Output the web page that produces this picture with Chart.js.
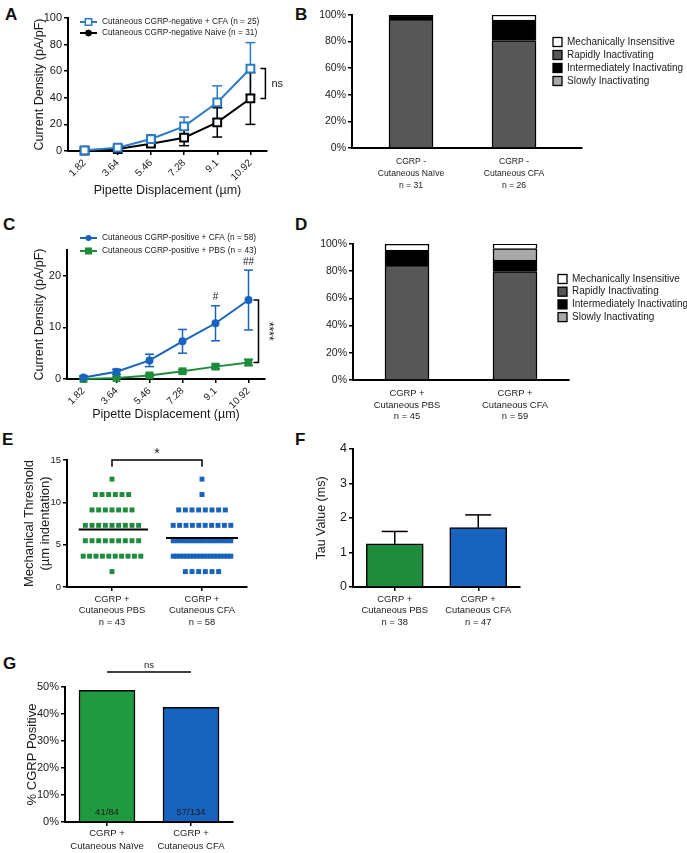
<!DOCTYPE html>
<html>
<head>
<meta charset="utf-8">
<script src="https://cdn.jsdelivr.net/npm/chart.js@4.4.1/dist/chart.umd.min.js"></script>
<style>
  body { margin: 0; background: #fff; width: 687px; height: 853px; position: relative; overflow: hidden; }
  canvas { position: absolute; }
  .panel { position: absolute; font: bold 17px/17px 'Liberation Sans', Arial, sans-serif; color: #111; }
</style>
</head>
<body>
<div class="panel" style="left:5px;top:6px">A</div>
<div class="panel" style="left:295px;top:6px">B</div>
<div class="panel" style="left:3px;top:216px">C</div>
<div class="panel" style="left:295px;top:216px">D</div>
<div class="panel" style="left:2px;top:431px">E</div>
<div class="panel" style="left:295px;top:431px">F</div>
<div class="panel" style="left:3px;top:655px">G</div>

<canvas id="chartA" width="300" height="202" style="left:0;top:0"></canvas>
<canvas id="chartB" width="387" height="200" style="left:300px;top:0"></canvas>
<canvas id="chartC" width="300" height="218" style="left:0;top:205px"></canvas>
<canvas id="chartD" width="387" height="220" style="left:300px;top:205px"></canvas>
<canvas id="chartE" width="300" height="205" style="left:0;top:425px"></canvas>
<canvas id="chartF" width="300" height="205" style="left:300px;top:425px"></canvas>
<canvas id="chartG" width="300" height="213" style="left:0;top:640px"></canvas>

<script>
// ---- data ----
const displacement = ['1.82', '3.64', '5.46', '7.28', '9.1', '10.92'];

// A: CGRP-negative neurons
const negCfaMean = [0.5, 2.5, 9, 18.5, 36.5, 62];
const negCfaSem = [0.6, 1, 3.2, 7, 12.5, 19.5];
const negNaiveMean = [0.2, 1.5, 5.5, 10, 21.5, 39.5];
const negNaiveSem = [0.4, 0.8, 2, 6, 11, 19.5];

// C: CGRP-positive neurons
const posCfaMean = [0.3, 1.4, 3.6, 7.3, 10.8, 15.3];
const posCfaSem = [0.3, 0.5, 1.2, 2.3, 3.4, 5.8];
const posPbsMean = [0, 0.2, 0.7, 1.5, 2.4, 3.2];
const posPbsSem = [0.1, 0.15, 0.25, 0.3, 0.4, 0.6];

// B / D: current types (% of cells)
const bGroups = [['CGRP -', 'Cutaneous Naïve', 'n = 31'], ['CGRP -', 'Cutaneous CFA', 'n = 26']];
const bRapid = [96.8, 80.8];
const bInter = [3.2, 15.4];
const bSlow = [0, 0];
const bMech = [0, 3.8];

const dGroups = [['CGRP +', 'Cutaneous PBS', 'n = 45'], ['CGRP +', 'Cutaneous CFA', 'n = 59']];
const dRapid = [84.4, 79.7];
const dInter = [11.1, 8.5];
const dSlow = [0, 8.5];
const dMech = [4.4, 3.4];

const typeNames = ['Mechanically Insensitive', 'Rapidly Inactivating', 'Intermediately Inactivating', 'Slowly Inactivating'];

// E: mechanical threshold, cells per indentation level
const eGroups = [['CGRP +', 'Cutaneous PBS', 'n = 43'], ['CGRP +', 'Cutaneous CFA', 'n = 58']];
const thresholdLevels = [12.74, 10.92, 9.1, 7.28, 5.46, 3.64, 1.82];
const pbsCounts = [1, 6, 7, 9, 9, 10, 1];
const cfaCounts = [1, 1, 8, 10, 14, 18, 6];
const thresholdMeans = [6.8, 5.8];

// F: tau
const fGroups = [['CGRP +', 'Cutaneous PBS', 'n = 38'], ['CGRP +', 'Cutaneous CFA', 'n = 47']];
const tauMean = [1.25, 1.72];
const tauSem = [0.36, 0.37];

// G: % CGRP positive
const gGroups = [['CGRP +', 'Cutaneous Naïve'], ['CGRP +', 'Cutaneous CFA']];
const pctPositive = [48.8, 42.5];
const gCounts = ['41/84', '57/134'];

// ---- styles ----
const FONT = "'Liberation Sans', Arial, sans-serif";
const INK = '#1a1a1a';
const blueA = '#2b7bc6';
const blue = '#1763bd';
const green = '#1e8c3c';
const greenG = '#1f9a40';
const rapidGrey = '#575757';
const slowGrey = '#a8a8a8';

Chart.defaults.font.family = FONT;
Chart.defaults.color = INK;
Chart.defaults.animation = false;
Chart.defaults.responsive = false;
Chart.defaults.devicePixelRatio = 1;
Chart.defaults.plugins.legend.display = false;
Chart.defaults.plugins.tooltip.enabled = false;

// ---- helpers ----
function valueAxis(o) {
  const axis = {
    min: o.min, max: o.max,
    ticks: { stepSize: o.step, font: { size: o.size || 11 }, padding: 2, color: INK, callback: o.fmt || (v => v) },
    grid: { drawOnChartArea: false, color: '#000', lineWidth: 1.5, tickLength: 4 },
    border: { color: '#000', width: 2 },
    title: o.title
      ? { display: true, text: o.title, color: INK, font: { size: o.titleSize || 12.5 }, padding: { top: 4, bottom: 0 } }
      : { display: false },
    afterFit: (s) => { s.width = o.width; }
  };
  if (o.keep) axis.afterBuildTicks = (s) => { s.ticks = s.ticks.filter(t => o.keep.includes(t.value)); };
  if (o.stacked) axis.stacked = true;
  return axis;
}

function groupAxis(o) {
  const axis = {
    type: o.type || 'category',
    offset: o.offset !== false,
    ticks: {
      autoSkip: false, maxRotation: o.rot || 0, minRotation: o.rot || 0, padding: o.pad, color: INK,
      font: { size: o.size || 9.4, lineHeight: o.lh || 1.22 },
      callback: o.callback || function (v) { return this.getLabelForValue(v); }
    },
    grid: { display: o.ticks !== false, drawOnChartArea: false, color: '#000', lineWidth: 1.5, tickLength: 4, offset: false },
    border: { color: '#000', width: 2 },
    title: o.title
      ? { display: true, text: o.title, color: INK, font: { size: 12.5 }, padding: { top: 0, bottom: o.titlePad || 4 } }
      : { display: false },
    afterFit: (s) => { s.height = o.height; }
  };
  if (o.type === 'linear') {
    axis.min = o.min;
    axis.max = o.max;
    axis.offset = false;
    axis.afterBuildTicks = (s) => { s.ticks = o.at.map(v => ({ value: v })); };
  }
  if (o.stacked) axis.stacked = true;
  return axis;
}

function text(ctx, str, x, y, size, opts = {}) {
  ctx.save();
  ctx.font = `${opts.bold ? 'bold ' : ''}${size}px ${FONT}`;
  ctx.fillStyle = opts.color || INK;
  ctx.textAlign = opts.align || 'left';
  ctx.textBaseline = 'middle';
  ctx.translate(x, y);
  if (opts.rot) ctx.rotate(opts.rot);
  ctx.fillText(str, 0, 0);
  ctx.restore();
}

function path(ctx, pts, width = 1.5, color = '#000') {
  ctx.save();
  ctx.strokeStyle = color;
  ctx.lineWidth = width;
  ctx.beginPath();
  pts.forEach(([x, y], i) => (i ? ctx.lineTo(x, y) : ctx.moveTo(x, y)));
  ctx.stroke();
  ctx.restore();
}

function lineKey(ctx, x1, x2, y, key, label, size) {
  path(ctx, [[x1, y], [x2, y]], 2, key.color);
  ctx.save();
  ctx.fillStyle = key.fill;
  ctx.strokeStyle = key.color;
  ctx.lineWidth = key.border;
  Chart.helpers.drawPoint(ctx, { pointStyle: key.style, radius: key.radius, rotation: 0, borderWidth: key.border }, (x1 + x2) / 2, y);
  ctx.restore();
  text(ctx, label, x2 + 5, y, size);
}

function boxKeys(ctx, x, y0, dy, fills, labels, size) {
  labels.forEach((label, i) => {
    const y = y0 + i * dy;
    ctx.save();
    ctx.fillStyle = fills[i];
    ctx.fillRect(x, y - 4.5, 9, 9);
    ctx.strokeStyle = '#000';
    ctx.lineWidth = 1.3;
    ctx.strokeRect(x, y - 4.5, 9, 9);
    ctx.restore();
    text(ctx, label, x + 14, y, size);
  });
}

// error bars from dataset.errors (symmetric, or upward only)
const errorBars = {
  id: 'errorBars',
  beforeDatasetsDraw(chart) {
    const ctx = chart.ctx;
    chart.data.datasets.forEach((ds, i) => {
      if (!ds.errors) return;
      const meta = chart.getDatasetMeta(i);
      const y = chart.scales[meta.yAxisID];
      const hw = (ds.capWidth || 10) / 2;
      meta.data.forEach((el, j) => {
        const v = ds.data[j];
        const top = y.getPixelForValue(v + ds.errors[j]);
        const bot = ds.errorUp ? y.getPixelForValue(v) : y.getPixelForValue(v - ds.errors[j]);
        const c = ds.errorColor || ds.borderColor;
        path(ctx, [[el.x, top], [el.x, bot]], 1.5, c);
        path(ctx, [[el.x - hw, top], [el.x + hw, top]], 1.5, c);
        if (!ds.errorUp) path(ctx, [[el.x - hw, bot], [el.x + hw, bot]], 1.5, c);
      });
    });
  }
};
Chart.register(errorBars);

// ---- A ----
new Chart(document.getElementById('chartA'), {
  type: 'line',
  data: {
    labels: displacement,
    datasets: [
      {
        label: 'Cutaneous CGRP-negative + CFA (n = 25)', data: negCfaMean, errors: negCfaSem, capWidth: 10,
        borderColor: blueA, borderWidth: 2, pointStyle: 'rect', pointRadius: 5.5,
        pointBackgroundColor: '#fff', pointBorderColor: blueA, pointBorderWidth: 2, clip: false
      },
      {
        label: 'Cutaneous CGRP-negative Naive (n = 31)', data: negNaiveMean, errors: negNaiveSem, capWidth: 10,
        borderColor: '#000', borderWidth: 2, pointStyle: 'rect', pointRadius: 5.5,
        pointBackgroundColor: '#fff', pointBorderColor: '#000', pointBorderWidth: 2, clip: false
      }
    ]
  },
  options: {
    layout: { padding: { left: 28, top: 18, right: 33, bottom: 0 } },
    scales: {
      x: groupAxis({ rot: 45, size: 10, pad: 2, height: 51, title: 'Pipette Displacement (µm)' }),
      y: valueAxis({ min: 0, max: 100, step: 20, width: 40, size: 11, title: 'Current Density (pA/pF)' })
    }
  },
  plugins: [{
    id: 'extrasA',
    afterDraw(chart) {
      const { ctx, scales: { x, y } } = chart;
      const ds = chart.data.datasets;
      lineKey(ctx, 80, 97, 22, { color: blueA, fill: '#fff', style: 'rect', radius: 4.5, border: 1.5 }, ds[0].label, 8.3);
      lineKey(ctx, 80, 97, 33, { color: '#000', fill: '#000', style: 'circle', radius: 3, border: 1 }, ds[1].label, 8.3);
      const xr = x.getPixelForValue(5) + 15;
      const y1 = y.getPixelForValue(negCfaMean[5]);
      const y2 = y.getPixelForValue(negNaiveMean[5]);
      path(ctx, [[xr - 5, y1], [xr, y1], [xr, y2], [xr - 5, y2]]);
      text(ctx, 'ns', xr + 6, (y1 + y2) / 2, 11);
    }
  }]
});

// ---- B ----
function stackSet(label, values, fill, asPoints) {
  return {
    label, backgroundColor: fill, borderColor: '#000', borderWidth: 1.5, barThickness: 44,
    data: asPoints ? values.map((v, i) => ({ x: i + 1, y: v })) : values
  };
}

new Chart(document.getElementById('chartB'), {
  type: 'bar',
  data: {
    datasets: [
      stackSet(typeNames[1], bRapid, rapidGrey, true),
      stackSet(typeNames[2], bInter, '#000', true),
      stackSet(typeNames[3], bSlow, slowGrey, true),
      stackSet(typeNames[0], bMech, '#fff', true)
    ]
  },
  options: {
    layout: { padding: { left: 0, top: 15, right: 105, bottom: 0 } },
    scales: {
      x: groupAxis({ type: 'linear', min: 0.427, max: 2.66, at: [1, 2], ticks: false, size: 8.6, lh: 1.4, pad: 4, height: 52,
        stacked: true, callback: v => bGroups[v - 1] }),
      y: valueAxis({ min: 0, max: 100, step: 20, width: 52, size: 10.5, fmt: v => v + '%', stacked: true })
    }
  },
  plugins: [{
    id: 'extrasB',
    afterDraw(chart) {
      boxKeys(chart.ctx, 253, 42, 13, ['#fff', rapidGrey, '#000', slowGrey], typeNames, 10);
    }
  }]
});

// ---- C ----
new Chart(document.getElementById('chartC'), {
  type: 'line',
  data: {
    labels: displacement,
    datasets: [
      {
        label: 'Cutaneous CGRP-positive + CFA (n = 58)', data: posCfaMean, errors: posCfaSem, capWidth: 9,
        borderColor: blue, borderWidth: 2, pointStyle: 'circle', pointRadius: 4,
        pointBackgroundColor: blue, pointBorderColor: blue, pointBorderWidth: 0, clip: false
      },
      {
        label: 'Cutaneous CGRP-positive + PBS (n = 43)', data: posPbsMean, errors: posPbsSem, capWidth: 9,
        borderColor: green, borderWidth: 2, pointStyle: 'rect', pointRadius: 5.5,
        pointBackgroundColor: green, pointBorderColor: green, pointBorderWidth: 0, clip: false
      }
    ]
  },
  options: {
    layout: { padding: { left: 28.5, top: 45, right: 35, bottom: 0 } },
    scales: {
      x: groupAxis({ rot: 45, size: 10, pad: 2, height: 44, title: 'Pipette Displacement (µm)', titlePad: 1 }),
      y: valueAxis({ min: 0, max: 25, step: 10, keep: [0, 10, 20], width: 38.5, size: 11, title: 'Current Density (pA/pF)' })
    }
  },
  plugins: [{
    id: 'extrasC',
    afterDraw(chart) {
      const { ctx, scales: { x, y } } = chart;
      const ds = chart.data.datasets;
      lineKey(ctx, 80, 97, 33, { color: blue, fill: blue, style: 'circle', radius: 3, border: 0 }, ds[0].label, 8.3);
      lineKey(ctx, 80, 97, 46, { color: green, fill: green, style: 'rect', radius: 5, border: 0 }, ds[1].label, 8.3);
      text(ctx, '#', x.getPixelForValue(4), y.getPixelForValue(posCfaMean[4] + posCfaSem[4]) - 8, 10, { align: 'center' });
      text(ctx, '##', x.getPixelForValue(5), y.getPixelForValue(posCfaMean[5] + posCfaSem[5]) - 8, 10, { align: 'center' });
      const xr = x.getPixelForValue(5) + 10;
      const y1 = y.getPixelForValue(posCfaMean[5]);
      const y2 = y.getPixelForValue(posPbsMean[5]);
      path(ctx, [[xr - 5, y1], [xr, y1], [xr, y2], [xr - 5, y2]]);
      text(ctx, '****', xr + 10, (y1 + y2) / 2, 12, { align: 'center', rot: Math.PI / 2 });
    }
  }]
});

// ---- D ----
new Chart(document.getElementById('chartD'), {
  type: 'bar',
  data: {
    labels: dGroups,
    datasets: [
      stackSet(typeNames[1], dRapid, rapidGrey),
      stackSet(typeNames[2], dInter, '#000'),
      stackSet(typeNames[3], dSlow, slowGrey),
      stackSet(typeNames[0], dMech, '#fff')
    ]
  },
  options: {
    layout: { padding: { left: 0, top: 39, right: 118, bottom: 0 } },
    scales: {
      x: groupAxis({ ticks: false, size: 9.4, lh: 1.22, pad: 4, height: 45, stacked: true }),
      y: valueAxis({ min: 0, max: 100, step: 20, width: 53, size: 10.5, fmt: v => v + '%', stacked: true })
    }
  },
  plugins: [{
    id: 'extrasD',
    afterDraw(chart) {
      boxKeys(chart.ctx, 258, 74, 12.7, ['#fff', rapidGrey, '#000', slowGrey], typeNames, 10);
    }
  }]
});

// ---- E ----
const dotStep = 0.074;   // spacing between dots in a row (x units)
const dotMaxSpan = 0.64; // widest row before dots start to overlap
function columnPoints(center, counts) {
  const pts = [];
  thresholdLevels.forEach((lvl, k) => {
    const n = counts[k];
    const step = n > 1 ? Math.min(dotStep, dotMaxSpan / (n - 1)) : 0;
    for (let i = 0; i < n; i++) pts.push({ x: center + (i - (n - 1) / 2) * step, y: lvl });
  });
  return pts;
}

new Chart(document.getElementById('chartE'), {
  type: 'scatter',
  data: {
    datasets: [
      { data: [{ x: 0.63, y: thresholdMeans[0] }, { x: 1.4, y: thresholdMeans[0] }], showLine: true, borderColor: '#000', borderWidth: 2, pointRadius: 0 },
      { data: [{ x: 1.6, y: thresholdMeans[1] }, { x: 2.4, y: thresholdMeans[1] }], showLine: true, borderColor: '#000', borderWidth: 2, pointRadius: 0 },
      { data: columnPoints(1, pbsCounts), pointStyle: 'rect', pointRadius: 3.5, backgroundColor: green, borderWidth: 0 },
      { data: columnPoints(2, cfaCounts), pointStyle: 'rect', pointRadius: 3.5, backgroundColor: blue, borderWidth: 0 }
    ]
  },
  options: {
    layout: { padding: { left: 18, top: 35, right: 53, bottom: 0 } },
    scales: {
      x: groupAxis({ type: 'linear', min: 0.5, max: 2.5, at: [1, 2], size: 9.4, lh: 1.22, pad: 2.3, height: 43,
        callback: v => eGroups[v - 1] }),
      y: valueAxis({ min: 0, max: 15, step: 5, width: 49, size: 9.5, title: ['Mechanical Threshold', '(µm indentation)'], titleSize: 13 })
    }
  },
  plugins: [{
    id: 'extrasE',
    afterDraw(chart) {
      const { ctx, scales: { x, y } } = chart;
      const x1 = x.getPixelForValue(1), x2 = x.getPixelForValue(2);
      const yt = y.getPixelForValue(15), yb = y.getPixelForValue(14.2);
      path(ctx, [[x1, yb], [x1, yt], [x2, yt], [x2, yb]]);
      text(ctx, '*', (x1 + x2) / 2, yt - 6, 14, { align: 'center' });
    }
  }]
});

// ---- F ----
new Chart(document.getElementById('chartF'), {
  type: 'bar',
  data: {
    labels: fGroups,
    datasets: [{
      data: tauMean, errors: tauSem, errorUp: true, capWidth: 26, errorColor: '#000',
      backgroundColor: [green, blue], borderColor: '#000', borderWidth: 1.5, barThickness: 57
    }]
  },
  options: {
    layout: { padding: { left: 10.5, top: 24, right: 80, bottom: 0 } },
    scales: {
      x: groupAxis({ size: 9.4, lh: 1.22, pad: 2.5, height: 43 }),
      y: valueAxis({ min: 0, max: 4, step: 1, width: 42.5, size: 12.5, title: 'Tau Value (ms)' })
    }
  }
});

// ---- G ----
new Chart(document.getElementById('chartG'), {
  type: 'bar',
  data: {
    labels: gGroups,
    datasets: [{
      data: pctPositive, backgroundColor: [greenG, blue], borderColor: '#000', borderWidth: 1.5, barThickness: 56
    }]
  },
  options: {
    layout: { padding: { left: 20.5, top: 47, right: 67, bottom: 0 } },
    scales: {
      x: groupAxis({ size: 9.5, lh: 1.35, pad: 1, height: 31 }),
      y: valueAxis({ min: 0, max: 50, step: 10, width: 44.5, size: 11, fmt: v => v + '%', title: '% CGRP Positive', titleSize: 13 })
    }
  },
  plugins: [{
    id: 'extrasG',
    afterDraw(chart) {
      const { ctx, scales: { x, y } } = chart;
      const yl = y.getPixelForValue(50) - 15;
      path(ctx, [[x.getPixelForValue(0), yl], [x.getPixelForValue(1), yl]], 1.5);
      text(ctx, 'ns', (x.getPixelForValue(0) + x.getPixelForValue(1)) / 2, yl - 7, 9.5, { align: 'center' });
      gCounts.forEach((s, i) => text(ctx, s, x.getPixelForValue(i), y.getPixelForValue(0) - 10, 9.5, { align: 'center', color: '#1a1a1a' }));
    }
  }]
});
</script>
</body>
</html>
